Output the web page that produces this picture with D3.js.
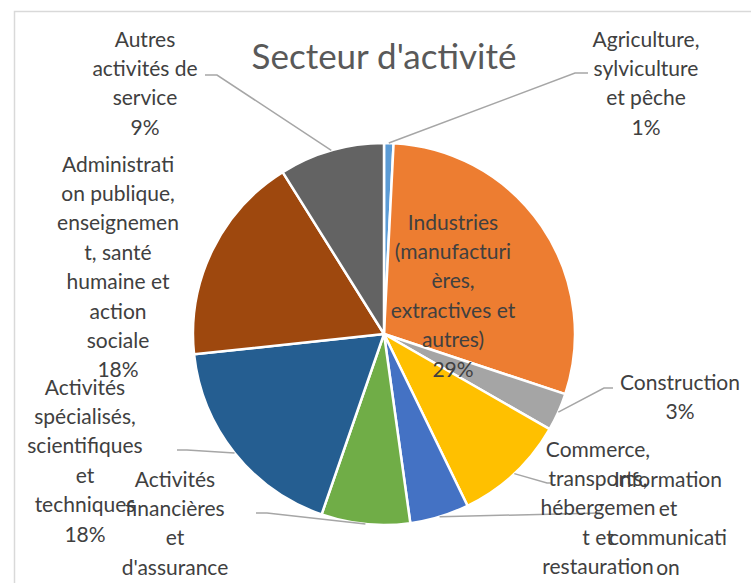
<!DOCTYPE html>
<html>
<head>
<meta charset="utf-8">
<script src="https://cdn.jsdelivr.net/npm/d3@7"></script>
<style>
  body { margin: 0; background: #fff; }
  svg text { font-family: Lato, "Open Sans", sans-serif; }
</style>
</head>
<body>
<script>
//data
const categories = [
  'Agriculture, sylviculture et pêche',
  'Industries (manufacturières, extractives et autres)',
  'Construction',
  'Commerce, transports, hébergement et restauration',
  'Information et communication',
  "Activités financières et d'assurance",
  'Activités spécialisés, scientifiques et techniques',
  'Administration publique, enseignement, santé humaine et action sociale',
  'Autres activités de service'
];
const shares = [0.8, 29.3, 3.2, 9.5, 5.0, 7.5, 18.0, 17.8, 8.9];
const pctLabels = ['1%', '29%', '3%', '10%', '5%', '8%', '18%', '18%', '9%'];
// label text as Excel wraps it
const labelLines = [
  ['Agriculture,', 'sylviculture', 'et pêche'],
  ['Industries', '(manufacturi', 'ères,', 'extractives et', 'autres)'],
  ['Construction'],
  ['Commerce,', 'transports,', 'hébergemen', 't et', 'restauration'],
  ['Information', 'et', 'communicati', 'on'],
  ['Activités', 'financières', 'et', "d'assurance"],
  ['Activités', 'spécialisés,', 'scientifiques', 'et', 'techniques'],
  ['Administrati', 'on publique,', 'enseignemen', 't, santé', 'humaine et', 'action', 'sociale'],
  ['Autres', 'activités de', 'service']
];
const colors = ['#5B9BD5', '#ED7D31', '#A5A5A5', '#FFC000', '#4472C4', '#70AD47', '#255E91', '#9E480E', '#636363'];

//layout of labels (text centre, first line y, leader elbow + end). null leader = none
const labelLayout = [
  {x: 646, y: 38,  elbow: [575, 73],  end: [588, 73]},
  {x: 453, y: 221, elbow: null},
  {x: 680, y: 381, elbow: [604, 388], end: [613, 388]},
  {x: 598, y: 448, elbow: [547, 483], end: [552, 483]},
  {x: 668, y: 478, elbow: [600, 513], end: [600, 513]},
  {x: 175, y: 478, elbow: [267, 513], end: [256, 513]},
  {x: 85,  y: 386, elbow: [187, 450], end: [177, 450]},
  {x: 118, y: 163, elbow: null},
  {x: 145, y: 38,  elbow: [217, 75],  end: [205, 75]}
];

//dims
const width = 751, height = 583;
const cx = 384, cy = 334, radius = 191;
const lineH = 29.4;

const svg = d3.select('body').append('svg')
  .attr('width', width)
  .attr('height', height);

//chart area border (only top and left visible)
svg.append('path')
  .attr('d', `M14.5,${height} L14.5,11.5 L${width},11.5`)
  .attr('fill', 'none')
  .attr('stroke', '#d9d9d9')
  .attr('stroke-width', 1.5);

//title
svg.append('text')
  .attr('x', cx)
  .attr('y', 55)
  .attr('text-anchor', 'middle')
  .attr('dominant-baseline', 'central')
  .attr('fill', '#595959')
  .style('font-size', '35px')
  .text("Secteur d'activité");

const pie = d3.pie().sort(null).value(d => d);
const arcs = pie(shares);
const arc = d3.arc().innerRadius(0).outerRadius(radius);

const group = svg.append('g').attr('transform', `translate(${cx},${cy})`);
group.selectAll('.slice')
  .data(arcs)
  .enter().append('path')
    .attr('class', 'slice')
    .attr('d', arc)
    .attr('fill', (d, i) => colors[i])
    .attr('stroke', '#fff')
    .attr('stroke-width', 2.5)
    .attr('stroke-linejoin', 'round');

//leader lines: from slice edge at mid angle to the label
arcs.forEach((a, i) => {
  const lay = labelLayout[i];
  if (!lay.elbow) return;
  const mid = (a.startAngle + a.endAngle) / 2;
  const sx = cx + radius * Math.sin(mid), sy = cy - radius * Math.cos(mid);
  svg.append('polyline')
    .attr('points', [[sx, sy], lay.elbow, lay.end].map(p => p.join(',')).join(' '))
    .attr('fill', 'none')
    .attr('stroke', '#a6a6a6')
    .attr('stroke-width', 1.5);
});

//labels
labelLines.forEach((lines, i) => {
  const lay = labelLayout[i];
  const t = svg.append('text')
    .attr('text-anchor', 'middle')
    .attr('fill', '#404040')
    .style('font-size', '21px');
  lines.concat([pctLabels[i]]).forEach((s, k) => {
    t.append('tspan')
      .attr('x', lay.x)
      .attr('y', lay.y + k * lineH)
      .attr('dominant-baseline', 'central')
      .text(s);
  });
});
</script>
</body>
</html>
